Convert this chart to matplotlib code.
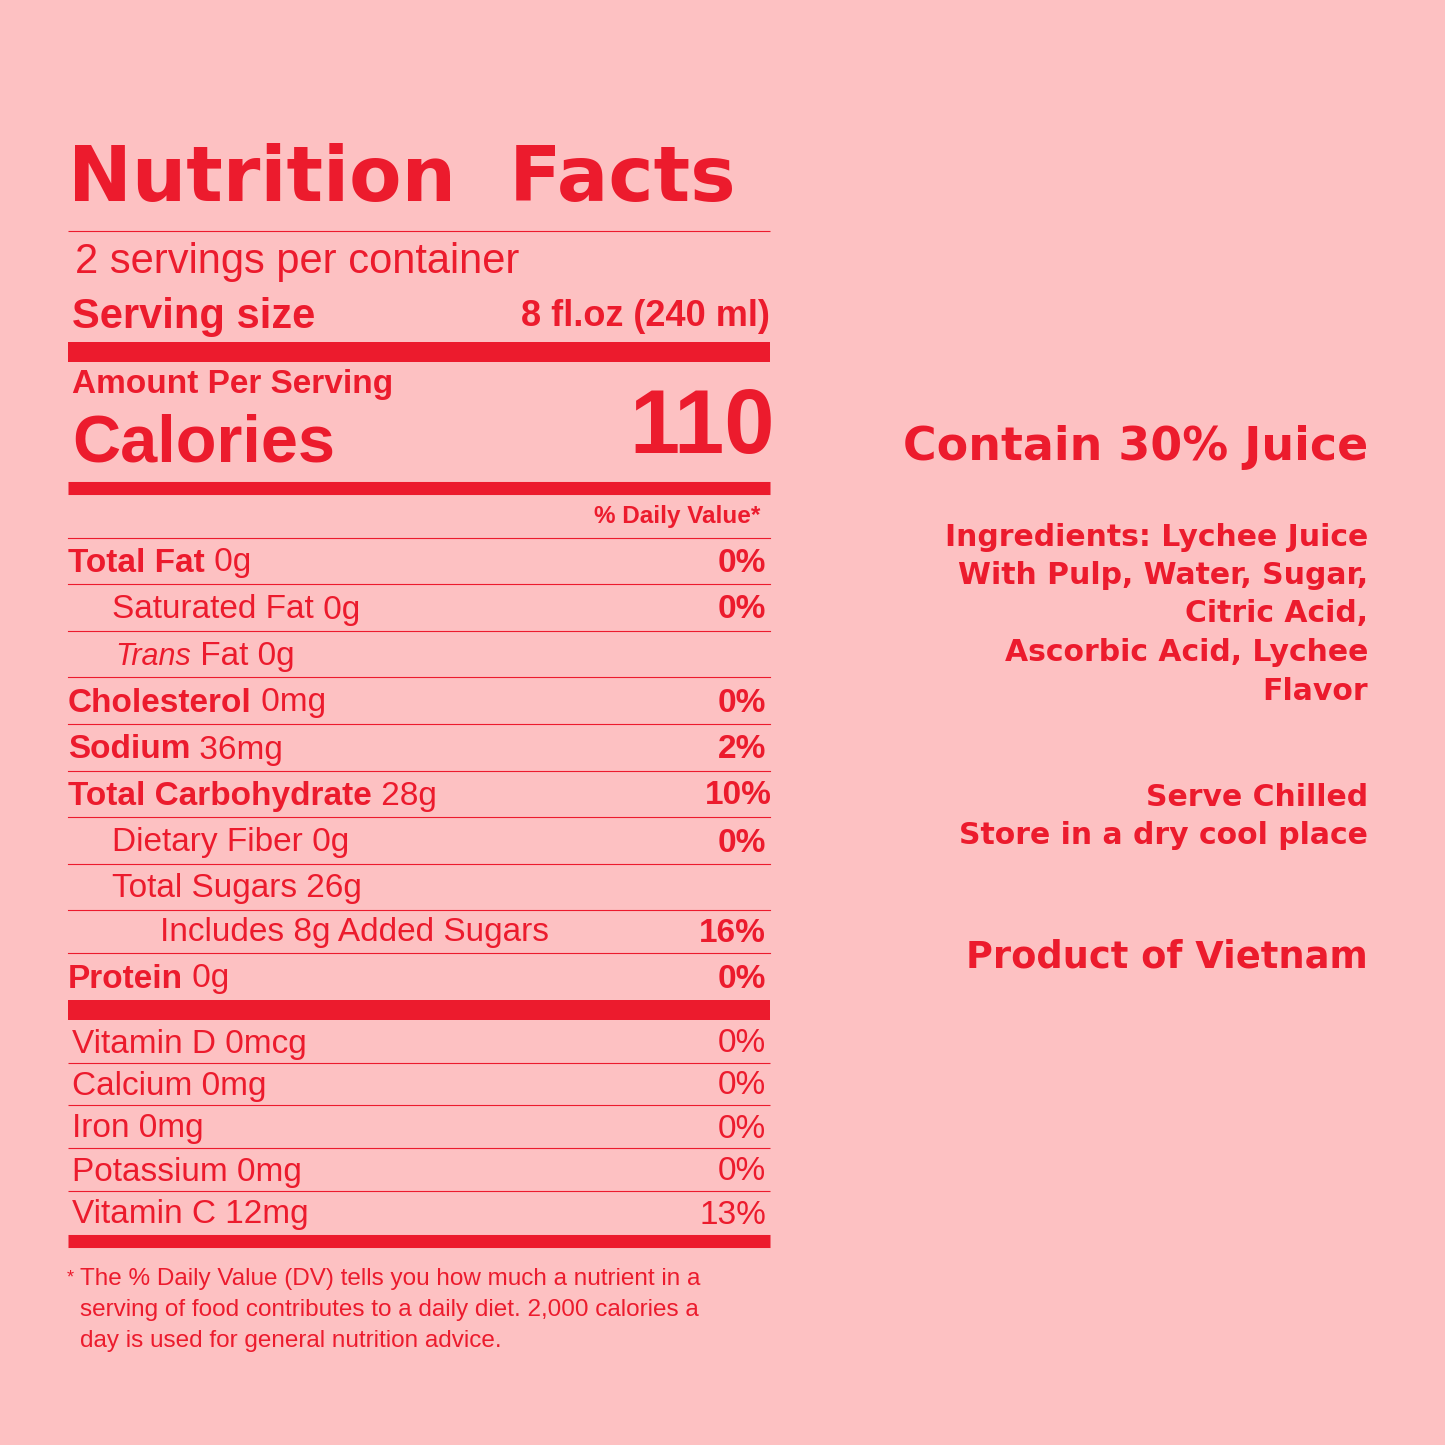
import matplotlib
matplotlib.use("Agg")
import matplotlib.pyplot as plt

BG = "#fdc1c2"
RED = "#ec1b2d"

# nutrient rows: (bold part, rest, indent level, % daily value)
nutrients = ["Total Fat", "Saturated Fat", "Trans", "Cholesterol", "Sodium",
             "Total Carbohydrate", "Dietary Fiber", "Total Sugars", "Includes 8g Added Sugars", "Protein"]
amounts = ["0g", "0g", "Fat 0g", "0mg", "36mg", "28g", "0g", "26g", "", "0g"]
bold_flags = [True, False, False, True, True, True, False, False, False, True]
indents = [0, 1, 1, 0, 0, 0, 1, 1, 2, 0]
daily_values = ["0%", "0%", "", "0%", "2%", "10%", "0%", "", "16%", "0%"]
row_y = [561, 608, 655, 701, 748, 794, 841, 887, 931, 977]

vitamins = ["Vitamin D 0mcg", "Calcium 0mg", "Iron 0mg", "Potassium 0mg", "Vitamin C 12mg"]
vitamin_dv = ["0%", "0%", "0%", "0%", "13%"]
vit_y = [1042, 1084, 1127, 1170, 1213]

fig = plt.figure(figsize=(14.45, 14.45), dpi=100, facecolor=BG)
ax = fig.add_axes([0, 0, 1, 1])
ax.set_xlim(0, 1445)
ax.set_ylim(1445, 0)
ax.axis("off")
ax.set_facecolor(BG)

SANS = ["Liberation Sans", "DejaVu Sans"]
HEAD = ["DejaVu Sans"]
L, R = 68, 770


def hline(y, lw):
    ax.plot([L, R], [y, y], color=RED, lw=lw, solid_capstyle="butt")


ax.text(L, 180, "Nutrition  Facts", fontsize=55, fontweight="bold", family=HEAD,
        color=RED, va="center", ha="left")
hline(231, 0.8)
ax.text(75, 262, "2 servings per container", fontsize=30, family=SANS, color=RED, va="center")
ax.text(72, 317, "Serving size", fontsize=30, family=SANS, fontweight="bold", color=RED, va="center")
ax.text(R, 317, "8 fl.oz (240 ml)", fontsize=26, family=SANS, fontweight="bold", color=RED,
        va="center", ha="right")
hline(352, 14.4)
ax.text(72, 384, "Amount Per Serving", fontsize=24, family=SANS, fontweight="bold", color=RED, va="center")
ax.text(72, 444, "Calories", fontsize=48, family=SANS, fontweight="bold", color=RED, va="center")
ax.text(775, 430, "110", fontsize=65, family=SANS, fontweight="bold", color=RED, va="center", ha="right")
hline(488, 9.4)
ax.text(760, 517, "% Daily Value*", fontsize=17.5, family=SANS, fontweight="bold", color=RED,
        va="center", ha="right")

line_y = [538, 584, 631, 677, 724, 771, 817, 864, 910, 953]
for y in line_y:
    ax.plot([L, R], [y, y], color=RED, lw=0.8)

indent_px = [68, 112, 160]
for name, amt, b, ind, dv, y in zip(nutrients, amounts, bold_flags, indents, daily_values, row_y):
    x = indent_px[ind]
    if name == "Trans":
        t = ax.text(115, y + 2, "Trans", fontsize=22, family=SANS, style="italic", color=RED, va="center")
    else:
        t = ax.text(x, y + 2, name, fontsize=24, family=SANS, fontweight="bold" if b else "normal",
                    color=RED, va="center")
    if amt:
        ax.annotate(" " + amt, xycoords=t, xy=(1, 0.5), va="center", fontsize=24,
                    family=SANS, color=RED)
    if dv:
        ax.text(766 if dv != "10%" else 772, y + 2, dv, fontsize=24, family=SANS, fontweight="bold",
                color=RED, va="center", ha="right")

hline(1010, 14.4)
for i, (v, dv, y) in enumerate(zip(vitamins, vitamin_dv, vit_y)):
    ax.text(72, y + 2, v, fontsize=24, family=SANS, color=RED, va="center")
    ax.text(766, y + 2, dv, fontsize=24, family=SANS, color=RED, va="center", ha="right")
    if i < len(vit_y) - 1:
        hline(y + 21, 0.8)
hline(1241, 9.4)

ax.text(67, 1278, "*", fontsize=13, family=SANS, color=RED, va="center")
footnote = ["The % Daily Value (DV) tells you how much a nutrient in a",
            "serving of food contributes to a daily diet. 2,000 calories a",
            "day is used for general nutrition advice."]
for i, line in enumerate(footnote):
    ax.text(80, 1279 + i * 31, line, fontsize=17.5, family=SANS, color=RED, va="center")

RX = 1368
ax.text(RX, 447, "Contain 30% Juice", fontsize=33, family=HEAD, fontweight="bold",
        color=RED, va="center", ha="right")
ingredients = ["Ingredients: Lychee Juice", "With Pulp, Water, Sugar,", "Citric Acid,",
               "Ascorbic Acid, Lychee", "Flavor"]
for i, line in enumerate(ingredients):
    ax.text(RX, 537 + i * 38.5, line, fontsize=21.5, family=HEAD, fontweight="bold",
            color=RED, va="center", ha="right")
for i, line in enumerate(["Serve Chilled", "Store in a dry cool place"]):
    ax.text(RX, 797 + i * 38, line, fontsize=21.5, family=HEAD, fontweight="bold",
            color=RED, va="center", ha="right")
ax.text(RX, 957, "Product of Vietnam", fontsize=26.5, family=HEAD, fontweight="bold",
        color=RED, va="center", ha="right")

fig.savefig("out.png", dpi=100, facecolor=BG)
